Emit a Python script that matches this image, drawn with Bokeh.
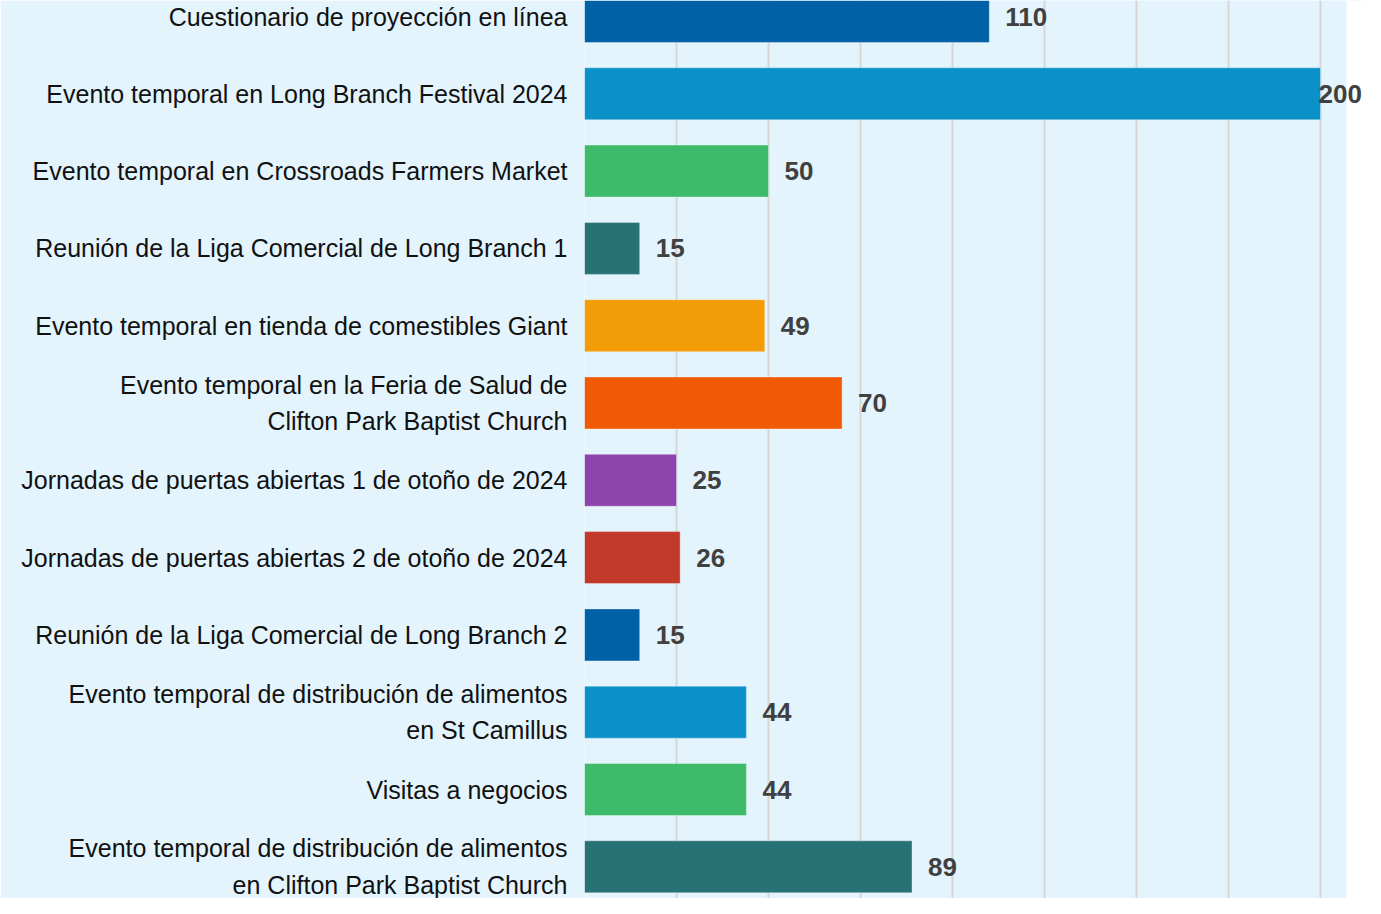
from bokeh.plotting import figure
from bokeh.models import ColumnDataSource, Range1d, FixedTicker, BoxAnnotation
from bokeh.core.properties import value
from bokeh.embed import file_html
from bokeh.resources import INLINE

categories = [
    "Cuestionario de proyección en línea",
    "Evento temporal en Long Branch Festival 2024",
    "Evento temporal en Crossroads Farmers Market",
    "Reunión de la Liga Comercial de Long Branch 1",
    "Evento temporal en tienda de comestibles Giant",
    "Evento temporal en la Feria de Salud de\nClifton Park Baptist Church",
    "Jornadas de puertas abiertas 1 de otoño de 2024",
    "Jornadas de puertas abiertas 2 de otoño de 2024",
    "Reunión de la Liga Comercial de Long Branch 2",
    "Evento temporal de distribución de alimentos\nen St Camillus",
    "Visitas a negocios",
    "Evento temporal de distribución de alimentos\nen Clifton Park Baptist Church",
]
values = [110, 200, 50, 15, 49, 70, 25, 26, 15, 44, 44, 89]
colors = ["#0061a6", "#0a91c8", "#3dbb6b", "#277275", "#f29c07", "#f05a05",
          "#8e44ad", "#c0392b", "#0061a6", "#0a91c8", "#3dbb6b", "#277275"]
grid_ticks = [0, 25, 50, 75, 100, 125, 150, 175, 200]

BG = "#e3f4fd"
W, H = 1365, 898
LEFT = 584
px_per_unit = 3.68
x_end = (W - LEFT) / px_per_unit
bg_end = (1346 - LEFT) / px_per_unit

n = len(categories)
ypos = [n - 1 - i for i in range(n)]
labels = [str(v) for v in values]
xoff = [16 if v < 190 else -2 for v in values]

row_px = 77.3
top_c = 16
y_end = (n - 1) + top_c / row_px
y_start = (n - 1) - (H - top_c) / row_px

src = ColumnDataSource(dict(y=ypos, v=values, c=colors, lab=labels, xo=xoff))

p = figure(width=W, height=H, output_backend="svg", toolbar_location=None,
           x_range=Range1d(0, x_end), y_range=Range1d(y_start, y_end),
           min_border_left=LEFT, min_border_right=0, min_border_top=0,
           min_border_bottom=0)
p.background_fill_color = BG
p.border_fill_color = BG
p.outline_line_color = None

white = BoxAnnotation(left=bg_end, fill_color="white", fill_alpha=1.0,
                      line_color=None, level="underlay")
p.add_layout(white)

p.hbar(y="y", right="v", left=0, height=52 / row_px, fill_color="c",
       line_color="white", line_alpha=0.35, line_width=1, source=src)

p.text(x="v", y="y", text="lab", x_offset="xo", text_baseline="middle",
       text_align="left", text_font=value("Liberation Sans"),
       text_font_style="bold", text_font_size="26px", text_color="#404040",
       source=src, level="overlay")

p.xaxis.visible = False
p.xgrid.ticker = FixedTicker(ticks=grid_ticks)
p.xgrid.grid_line_color = "#d6d6d6"
p.xgrid.grid_line_width = 2
p.ygrid.grid_line_color = None

ya = p.yaxis[0]
ya.ticker = FixedTicker(ticks=ypos)
ya.major_label_overrides = {yy: c for yy, c in zip(ypos, categories)}
ya.axis_line_color = None
ya.major_tick_line_color = None
ya.minor_tick_line_color = None
ya.major_tick_out = 0
ya.major_tick_in = 0
ya.major_label_standoff = 17
ya.major_label_text_font = "Liberation Sans"
ya.major_label_text_font_size = "25px"
ya.major_label_text_color = "#111111"
ya.major_label_text_line_height = 1.3

open("out.html", "w").write(file_html(p, INLINE))
